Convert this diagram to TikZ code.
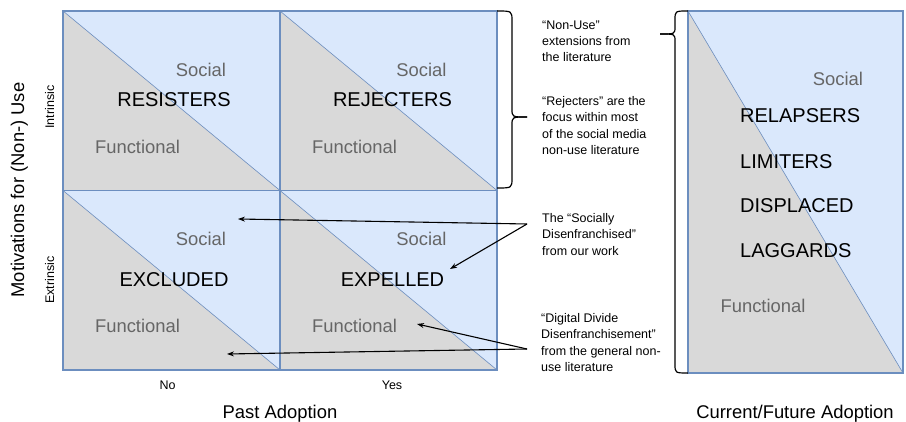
\documentclass[tikz,border=0pt]{standalone}
\usepackage{fontspec}
\setmainfont{Liberation Sans}
\usetikzlibrary{arrows.meta}
\definecolor{socialblue}{HTML}{DAE8FC}
\definecolor{funcgray}{HTML}{D9D9D9}
\definecolor{edgeblue}{HTML}{6C8EBF}
\definecolor{labelgray}{HTML}{666666}

\begin{document}
\begin{tikzpicture}[x=1pt,y=-1pt,
  cellline/.style={draw=edgeblue,line width=1.2pt},
  diagline/.style={draw=edgeblue,line width=0.6pt},
  group/.style={font=\fontsize{20}{24}\selectfont,inner sep=0pt},
  kind/.style={font=\fontsize{18.4}{22}\selectfont,text=labelgray,inner sep=0pt},
  axis/.style={font=\fontsize{18.4}{22}\selectfont,inner sep=0pt},
  small/.style={font=\fontsize{12.5}{15}\selectfont,inner sep=0pt},
  note/.style={font=\fontsize{12.5}{16.2}\selectfont,align=left,anchor=north west,inner sep=0pt},
  pointer/.style={-{Stealth[length=7pt,width=5pt]},line width=1.1pt},
  bracepen/.style={line width=1.2pt}]
\useasboundingbox (0,0) rectangle (906,422);

% past adoption grid
\fill[socialblue] (63,11) rectangle (497,370);
\fill[funcgray] (63,11) -- (280,190.5) -- (63,190.5) -- cycle;
\fill[funcgray] (280,11) -- (497,190.5) -- (280,190.5) -- cycle;
\fill[funcgray] (63,190.5) -- (280,370) -- (63,370) -- cycle;
\fill[funcgray] (280,190.5) -- (497,370) -- (280,370) -- cycle;
\draw[diagline] (63,11) -- (280,190.5);
\draw[diagline] (280,11) -- (497,190.5);
\draw[diagline] (63,190.5) -- (280,370);
\draw[diagline] (280,190.5) -- (497,370);
\draw[cellline] (63,11) rectangle (497,370);
\draw[cellline] (280,11) -- (280,370);
\draw[cellline] (63,190.5) -- (497,190.5);

% current/future adoption panel
\fill[socialblue] (688,11) rectangle (903,373);
\fill[funcgray] (688,11) -- (903,373) -- (688,373) -- cycle;
\draw[diagline] (688,11) -- (903,373);
\draw[cellline] (688,11) rectangle (903,373);

% cell texts
\node[kind] (soc1) at (201,70) {Social};
\node[group] (resisters) at (174,99.5) {RESISTERS};
\node[kind] (fun1) at (137.5,147) {Functional};
\node[kind] (soc2) at (421.5,70) {Social};
\node[group] (rejecters) at (392.5,99.5) {REJECTERS};
\node[kind] (fun2) at (354.5,147) {Functional};
\node[kind] (soc3) at (201,238.5) {Social};
\node[group] (excluded) at (174,280) {EXCLUDED};
\node[kind] (fun3) at (137.5,325.5) {Functional};
\node[kind] (soc4) at (421.5,238.5) {Social};
\node[group] (expelled) at (392.5,280) {EXPELLED};
\node[kind] (fun4) at (354.5,326) {Functional};

\node[kind] (soc5) at (838,78.5) {Social};
\node[group,anchor=west] (relapsers) at (740,115.5) {RELAPSERS};
\node[group,anchor=west] (limiters) at (740,161.5) {LIMITERS};
\node[group,anchor=west] (displaced) at (740,206) {DISPLACED};
\node[group,anchor=west] (laggards) at (740,250.5) {LAGGARDS};
\node[kind] (fun5) at (763,305.5) {Functional};

% axes
\node[axis,rotate=90,anchor=base] (motiv) at (24,190) {Motivations for (Non-) Use};
\node[small,rotate=90,anchor=base] (intrinsic) at (54,107) {Intrinsic};
\node[small,rotate=90,anchor=base] (extrinsic) at (54,280) {Extrinsic};
\node[small,anchor=base] (no) at (167.5,390) {No};
\node[small,anchor=base] (yes) at (392,390) {Yes};
\node[axis,anchor=base] (past) at (280,418) {Past Adoption};
\node[axis,anchor=base] (future) at (795,418) {Current/Future Adoption};

% braces
\draw[bracepen] (497,11) .. controls (512,11) .. (512,21) -- (512,109) .. controls (512,117) .. (527,117);
\draw[bracepen] (497,188) .. controls (512,188) .. (512,178) -- (512,125) .. controls (512,117) .. (527,117);
\draw[bracepen] (688,11) .. controls (675,11) .. (675,20) -- (675,27) .. controls (675,34) .. (660,34);
\draw[bracepen] (688,373) .. controls (675,373) .. (675,364) -- (675,41) .. controls (675,34) .. (660,34);

% notes
\node[note] (nonuse) at (542,20.5) {“Non-Use”\\extensions from\\the literature};
\node[note] (focus) at (542,96.5) {“Rejecters” are the\\focus within most\\of the social media\\non-use literature};
\node[note] (socially) at (542,213.5) {The “Socially\\Disenfranchised”\\from our work};
\node[note] (digital) at (541,313.5) {“Digital Divide\\Disenfranchisement”\\from the general non-\\use literature};

% pointers
\coordinate (socjoin) at (527,224);
\coordinate (digjoin) at (527,349);
\coordinate (tipexcl) at (238,219);
\coordinate (tipexp) at (450,269);
\coordinate (tipfun) at (417,324);
\coordinate (tipbot) at (227,354);
\draw[pointer] (socjoin) -- (tipexcl);
\draw[pointer] (socjoin) -- (tipexp);
\draw[pointer] (digjoin) -- (tipfun);
\draw[pointer] (digjoin) -- (tipbot);
\end{tikzpicture}
\end{document}
